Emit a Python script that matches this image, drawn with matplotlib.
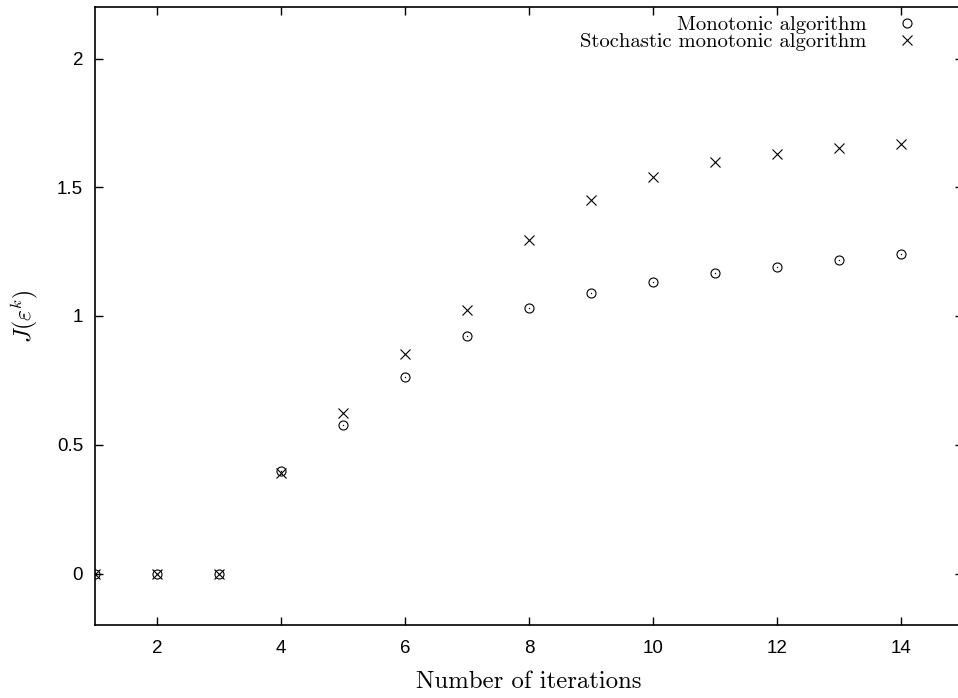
import matplotlib
matplotlib.use("Agg")
import matplotlib.pyplot as plt

iterations = [1, 2, 3, 4, 5, 6, 7, 8, 9, 10, 11, 12, 13, 14]
monotonic = [0, 0, 0, 0.40, 0.578, 0.764, 0.922, 1.031, 1.088, 1.132, 1.167, 1.192, 1.218, 1.242]
stochastic = [0, 0, 0, 0.39, 0.624, 0.853, 1.022, 1.295, 1.452, 1.539, 1.597, 1.630, 1.653, 1.668]

plt.rcParams['mathtext.fontset'] = 'cm'
plt.rcParams['font.family'] = ['Liberation Sans', 'DejaVu Sans']

fig = plt.figure(figsize=(9.58, 6.98), dpi=100)
ax = fig.add_axes([95 / 958, 73 / 698, 868 / 958, 618 / 698])

ax.plot(iterations, monotonic, linestyle='none', marker='o', markersize=6.5,
        markerfacecolor='none', markeredgecolor='black', markeredgewidth=0.8,
        label='Monotonic algorithm')
# gnuplot style centre dot in the circles
ax.plot(iterations, monotonic, linestyle='none', marker='o', markersize=1,
        color='black', markeredgewidth=0)
ax.plot(iterations, stochastic, linestyle='none', marker='x', markersize=6.5,
        color='black', markeredgewidth=0.8,
        label='Stochastic monotonic algorithm')

ax.set_xlim(1, 15)
ax.set_ylim(-0.2, 2.2)
ax.set_xticks([2, 4, 6, 8, 10, 12, 14])
ax.set_yticks([0, 0.5, 1, 1.5, 2])
ax.set_yticklabels(['0', '0.5', '1', '1.5', '2'])
ax.tick_params(direction='in', length=6, width=1, top=True, right=True,
               labelsize=13.5)
ax.tick_params(axis='x', pad=11)
ax.tick_params(axis='y', pad=8.5)
for s in ax.spines.values():
    s.set_linewidth(1.2)

ax.set_xlabel('Number of iterations', fontfamily='cmr10', fontsize=17.8, labelpad=10)
ax.set_ylabel(r'$J(\varepsilon^k)$', fontsize=17, labelpad=12)

handles, labels = ax.get_legend_handles_labels()
leg = ax.legend(handles, labels, loc='upper right', frameon=False, markerfirst=False,
                prop={'family': 'cmr10', 'size': 14.8}, handlelength=1.5,
                handletextpad=1.2, borderaxespad=0.2, labelspacing=-0.08,
                bbox_to_anchor=(0.967, 1.006))

fig.savefig('out.png', dpi=100)
